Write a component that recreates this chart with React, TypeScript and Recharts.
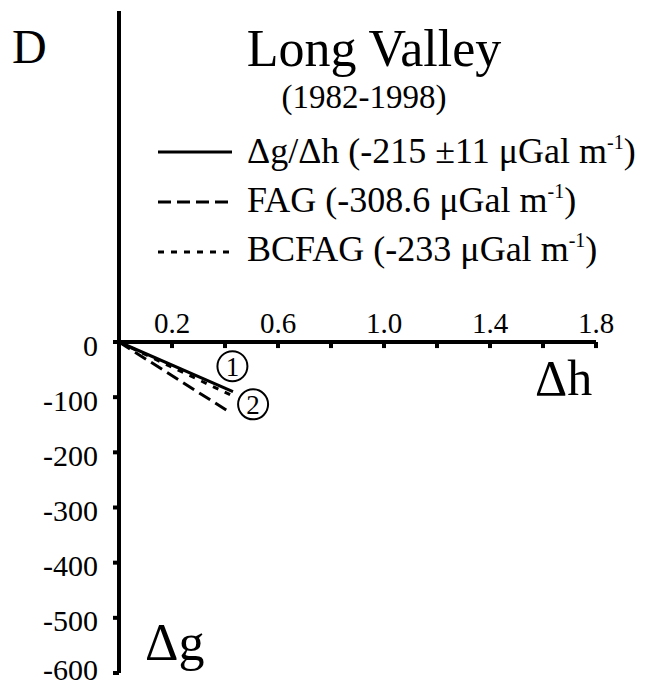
import { LineChart, Line, XAxis, YAxis, ReferenceLine, ReferenceDot } from 'recharts';

const FONT = '"Liberation Serif", "Times New Roman", serif';

// Δh (m) vs Δg (µGal) end points
const DH_OBS = [0, 0.43];
const DG_OBS = [0, -90];
const DH_FAG = [0, 0.42];
const DG_FAG = [0, -128];
const DH_BCFAG = [0, 0.43];
const DG_BCFAG = [0, -98];

const X_TICKS = [0.2, 0.4, 0.6, 0.8, 1.0, 1.2, 1.4, 1.6, 1.8];
const X_TICK_LABELS = [0.2, 0.6, 1.0, 1.4, 1.8];
const Y_TICKS = [0, -100, -200, -300, -400, -500, -600];

const LEGEND_TEXT = ['Δg/Δh (-215 ±11 μGal m', 'FAG (-308.6 μGal m', 'BCFAG (-233 μGal m'];
const LEGEND_DASH = ['', '13 6', '6 7'];

const MARK_DH = [0.428, 0.506];
const MARK_DG = [-44, -113];
const MARK_LABELS = ['1', '2'];

const zip = (xs: number[], ys: number[]) => xs.map((x, i) => ({ dh: x, dg: ys[i] }));

const SERIES = [
  { key: 'obs', data: zip(DH_OBS, DG_OBS), dash: LEGEND_DASH[0] },
  { key: 'fag', data: zip(DH_FAG, DG_FAG), dash: LEGEND_DASH[1] },
  { key: 'bcfag', data: zip(DH_BCFAG, DG_BCFAG), dash: LEGEND_DASH[2] },
];

export default function App() {
  return (
    <div style={{ position: 'relative', width: 640, height: 675 }}>
      <style>{'.recharts-surface { overflow: visible; }'}</style>
      <LineChart width={640} height={675} margin={{ top: 3, right: 52, bottom: 10, left: 0 }}>
        <XAxis dataKey="dh" type="number" domain={[0, 1.8]} hide allowDuplicatedCategory={false} />
        <YAxis
          type="number"
          domain={[-600, 600]}
          ticks={Y_TICKS}
          width={111}
          axisLine={{ stroke: '#000', strokeWidth: 4 }}
          tickLine={{ stroke: '#000', strokeWidth: 4 }}
          tickSize={6}
          tickMargin={15}
          tick={{ fill: '#000', fontSize: 30, fontFamily: FONT, dy: 3 }}
        />

        <ReferenceLine y={0} stroke="#000" strokeWidth={4} />
        {X_TICKS.map((t) => (
          <ReferenceLine
            key={t}
            segment={[{ x: t, y: 0 }, { x: t, y: -11 }]}
            stroke="#000"
            strokeWidth={4}
          />
        ))}
        {X_TICK_LABELS.map((t) => (
          <ReferenceDot
            key={'l' + t}
            x={t}
            y={0}
            r={1}
            fill="none"
            stroke="none"
            label={{
              value: t.toFixed(1),
              position: 'top',
              offset: 8,
              fill: '#000',
              fontSize: 29,
              fontFamily: FONT,
            }}
          />
        ))}

        {SERIES.map((s) => (
          <Line
            key={s.key}
            data={s.data}
            dataKey="dg"
            stroke="#000"
            strokeWidth={3}
            strokeDasharray={s.dash || undefined}
            dot={false}
            isAnimationActive={false}
          />
        ))}

        {MARK_LABELS.map((m, i) => (
          <ReferenceDot
            key={'m' + m}
            x={MARK_DH[i]}
            y={MARK_DG[i]}
            r={15}
            fill="#fff"
            stroke="#000"
            strokeWidth={2}
            label={{ value: m, position: 'center', fill: '#000', fontSize: 27, fontFamily: FONT }}
          />
        ))}
      </LineChart>

      <svg
        width={640}
        height={675}
        style={{ position: 'absolute', left: 0, top: 0, pointerEvents: 'none' }}
        fontFamily={FONT}
      >
        <text x={4} y={55} fontSize={48}>D</text>
        <text x={366} y={58} fontSize={52} textAnchor="middle">Long Valley</text>
        <text x={356} y={100} fontSize={33} textAnchor="middle">(1982-1998)</text>

        {LEGEND_TEXT.map((t, i) => (
          <g key={t}>
            <line
              x1={150}
              x2={224}
              y1={144 + i * 50}
              y2={144 + i * 50}
              stroke="#000"
              strokeWidth={3}
              strokeDasharray={LEGEND_DASH[i] || undefined}
            />
            <text x={239} y={155 + i * 49} fontSize={36}>
              {t}
              <tspan fontSize={20} dy={-14}>-1</tspan>
              <tspan dy={14}>)</tspan>
            </text>
          </g>
        ))}

        <text x={527} y={387} fontSize={50}>Δh</text>
        <text x={137} y={652} fontSize={52}>Δg</text>
      </svg>
    </div>
  );
}
